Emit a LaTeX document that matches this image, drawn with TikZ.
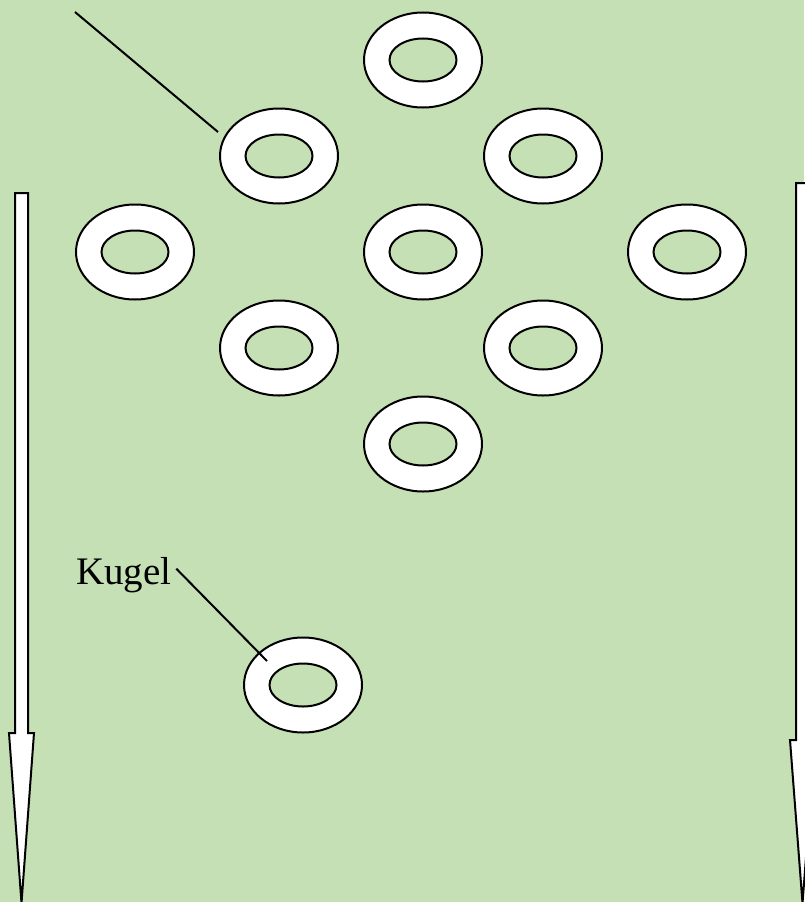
\documentclass[tikz,border=0pt]{standalone}
\usepackage{fontspec}
\setmainfont{Liberation Serif}
\usetikzlibrary{shapes.geometric}
\definecolor{feld}{HTML}{C5E0B4}

\begin{document}
\begin{tikzpicture}[x=1pt, y=-1pt, line width=2pt,
  ring/.style={ellipse, draw, fill=white, minimum width=118pt, minimum height=95pt, inner sep=0pt},
  loch/.style={ellipse, draw, fill=feld, minimum width=67pt, minimum height=43pt, inner sep=0pt},
  pfeil/.style={draw, fill=white, line join=miter},
]
  \fill[feld] (0,0) rectangle (804,902);
  \useasboundingbox (0,0) rectangle (804,902);
  % Ringe: Name/x/y
  \foreach \name/\px/\py in {a/423/60, b/279/156, c/543/156, d/135/252, e/423/252,
                             f/687/252, g/279/348, h/543/348, i/423/444, k/303/685} {
    \node[ring] (\name) at (\px,\py) {};
    \node[loch] (\name-in) at (\name) {};
  }
  \coordinate (schild) at (75,12);
  \draw (schild) -- ([shift={(-61,-24)}]b.center);
  \node[font=\fontsize{39}{42}\selectfont, anchor=base west, inner sep=0pt] (kugel) at (75,584) {Kugel};
  \draw ([shift={(4,-6)}]kugel.east) -- ([shift={(-36,-24)}]k.center);
  % Pfeile links und rechts
  \draw[pfeil] (15,193) -- (28,193) -- (28,733) -- (34,733) -- (21.5,903)
    -- (9,733) -- (15,733) -- cycle;
  \draw[pfeil] (796,183) -- (809,183) -- (809,740) -- (815,740) -- (802.5,903)
    -- (790,740) -- (796,740) -- cycle;
\end{tikzpicture}
\end{document}
